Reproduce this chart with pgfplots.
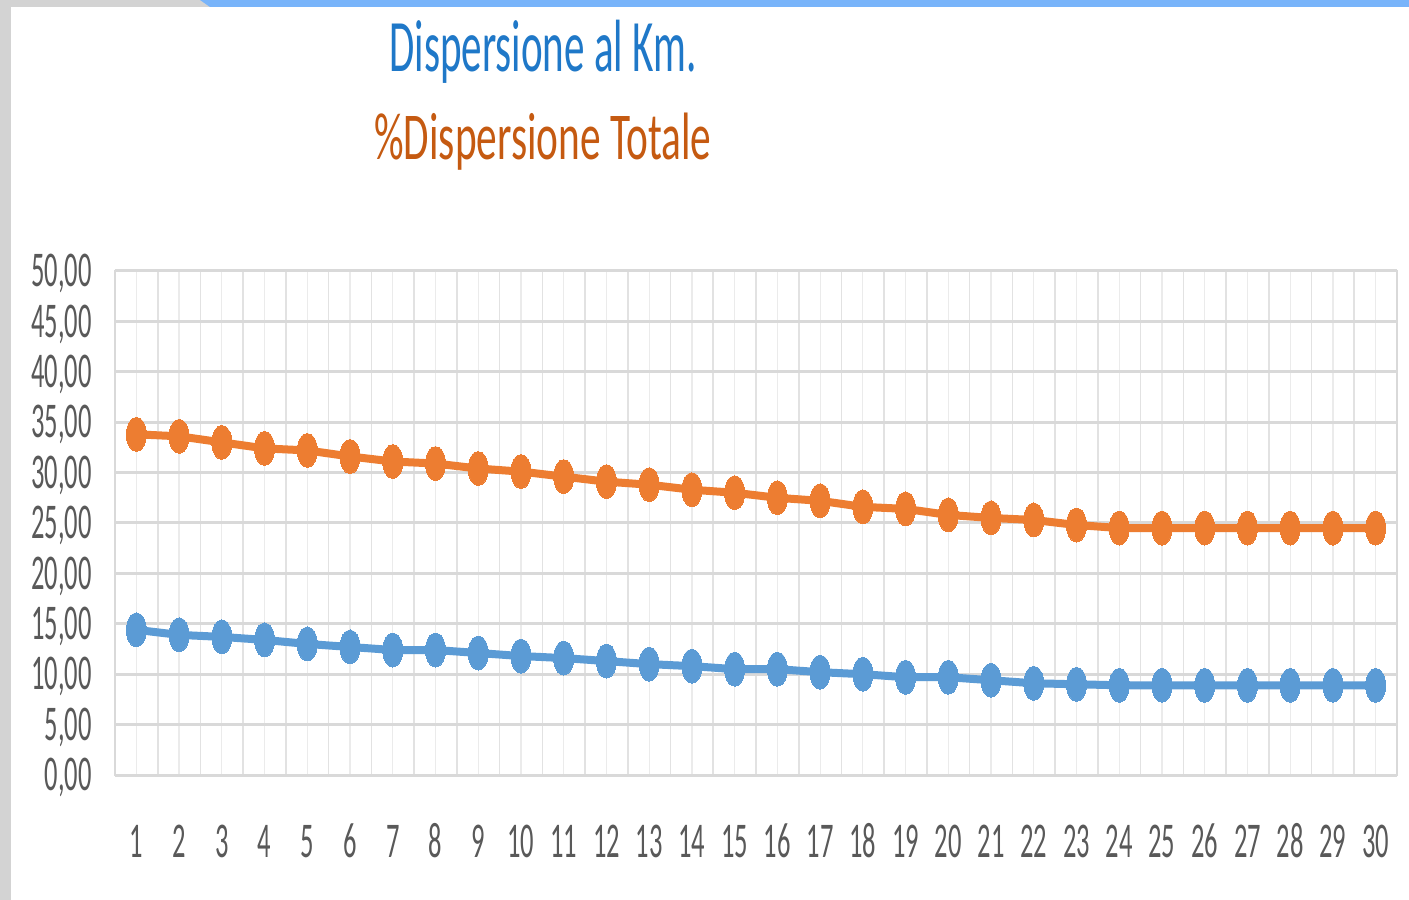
\documentclass[border=0pt]{standalone}
\usepackage{fontspec}
\setmainfont{Carlito}
\usepackage{graphicx}
\usepackage{pgfplots}
\usepackage{pgfplotstable}
\pgfplotsset{compat=1.18}
\definecolor{cblue}{HTML}{5B9BD5}
\definecolor{corange}{HTML}{ED7D31}
\definecolor{tblue}{HTML}{1F78C8}
\definecolor{torange}{HTML}{C55A11}
\definecolor{tickgray}{HTML}{595959}
\definecolor{framegray}{HTML}{D3D3D3}
\definecolor{barblue}{HTML}{78B4FA}
\definecolor{gridmajor}{HTML}{D9D9D9}
\definecolor{gridlight}{HTML}{EBEBEB}
\definecolor{gridmid}{HTML}{E2E2E2}
\newcommand{\sx}[1]{\scalebox{0.53}[1]{#1}}
\pgfplotstableread{
x blue orange
1 14.4 33.8
2 13.9 33.6
3 13.7 33.0
4 13.4 32.4
5 13.0 32.2
6 12.7 31.6
7 12.4 31.1
8 12.4 30.9
9 12.1 30.4
10 11.8 30.1
11 11.6 29.6
12 11.3 29.1
13 11.0 28.8
14 10.8 28.3
15 10.5 28.0
16 10.5 27.5
17 10.2 27.2
18 10.0 26.6
19 9.7 26.4
20 9.7 25.8
21 9.4 25.5
22 9.1 25.3
23 9.0 24.8
24 8.9 24.5
25 8.9 24.5
26 8.9 24.5
27 8.9 24.5
28 8.9 24.5
29 8.9 24.5
30 8.9 24.5
}\datatable
\begin{document}
\begin{tikzpicture}
\begin{scope}[x=1pt,y=1pt,shift={(-57.5pt,-62.5pt)}]
\path[use as bounding box] (0,0) rectangle (704.5,450);
\fill[white] (0,0) rectangle (704.5,450);
\fill[framegray] (0,0) rectangle (5.75,450);
\fill[framegray] (0,446.5) rectangle (704.5,450);
\fill[barblue] (100,450) -- (704.5,450) -- (704.5,446.5) -- (105,446.5) -- cycle;
\node[anchor=base, font=\fontsize{37}{40}\selectfont, text=tblue, inner sep=0] at (271.5,414) {\scalebox{0.555}[1]{Dispersione al Km.}};
\node[anchor=base, font=\fontsize{33.5}{36}\selectfont, text=torange, inner sep=0] at (271.5,370) {\scalebox{0.617}[1]{\%Dispersione Totale}};
\end{scope}
\begin{axis}[
  width=641pt, height=252pt, scale only axis,
  xmin=0.5, xmax=30.5, ymin=0, ymax=50,
  ytick={0,5,...,50},
  yticklabels={\sx{0,00},\sx{5,00},\sx{10,00},\sx{15,00},\sx{20,00},\sx{25,00},\sx{30,00},\sx{35,00},\sx{40,00},\sx{45,00},\sx{50,00}},
  xtick={1,...,30},
  xticklabels={\sx{1},\sx{2},\sx{3},\sx{4},\sx{5},\sx{6},\sx{7},\sx{8},\sx{9},\sx{10},\sx{11},\sx{12},\sx{13},\sx{14},\sx{15},\sx{16},\sx{17},\sx{18},\sx{19},\sx{20},\sx{21},\sx{22},\sx{23},\sx{24},\sx{25},\sx{26},\sx{27},\sx{28},\sx{29},\sx{30}},
  minor xtick={0.5,1.5,...,30.5},
  ymajorgrids, xmajorgrids, xminorgrids,
  major y grid style={draw=gridmajor, line width=1.5pt},
  major x grid style={draw=gridlight, line width=0.6pt},
  minor x grid style={draw=gridmid, line width=0.8pt},
  axis line style={draw=gridmajor, line width=1pt},
  major tick length=0pt, minor tick length=0pt,
  tick style={draw=none},
  tick label style={font=\fontsize{25}{30}\selectfont, text=tickgray, inner sep=0pt},
  yticklabel style={anchor=base east, yshift=-7.9pt, xshift=-11.5pt},
  xticklabel style={anchor=base, yshift=-41pt},
  clip=false,
]
\addplot[color=cblue, line width=4pt, line join=round, mark=*, mark size=5pt, mark options={solid, yscale=1.7, line width=0pt, fill=cblue}] table[x=x, y=blue]{\datatable};
\addplot[color=corange, line width=4pt, line join=round, mark=*, mark size=5pt, mark options={solid, yscale=1.7, line width=0pt, fill=corange}] table[x=x, y=orange]{\datatable};
\end{axis}
\end{tikzpicture}
\end{document}
